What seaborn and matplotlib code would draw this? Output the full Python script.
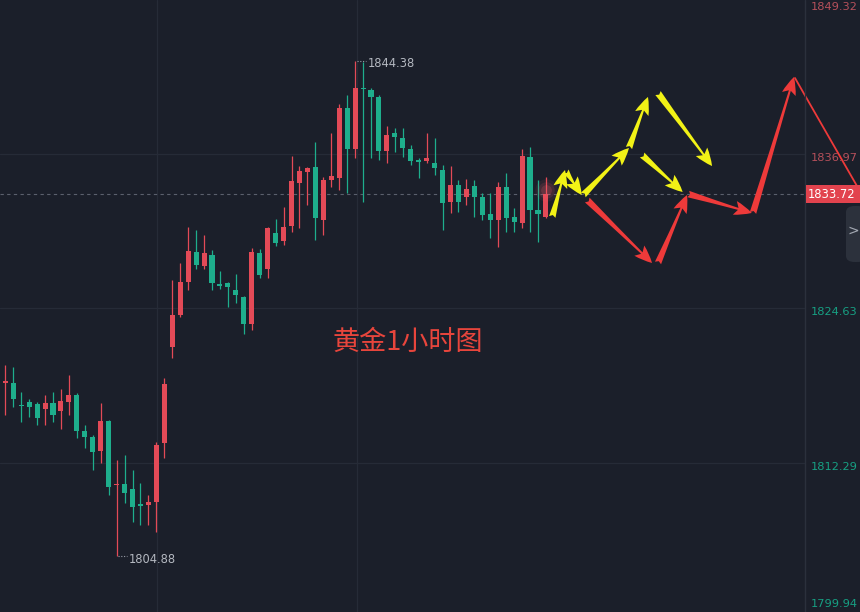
import numpy as np
import pandas as pd
import matplotlib
matplotlib.use("Agg")
import matplotlib.pyplot as plt
import seaborn as sns
from matplotlib.patches import Rectangle, FancyBboxPatch

# ---------------- data ----------------
opens = [1818.71, 1818.67, 1816.88, 1817.15, 1816.99, 1816.60, 1817.07, 1816.44, 1817.15, 1817.71,
         1814.84, 1814.36, 1813.25, 1815.64, 1810.50, 1810.62, 1810.22, 1808.98, 1808.94, 1809.18,
         1813.88, 1821.54, 1824.09, 1826.72, 1829.12, 1828.00, 1828.88, 1826.52, 1826.64, 1826.09,
         1825.53, 1823.37, 1829.04, 1827.76, 1830.63, 1829.99, 1831.19, 1834.62, 1835.49, 1835.89,
         1831.67, 1834.86, 1835.02, 1840.60, 1837.33, 1842.19, 1842.03, 1841.48, 1837.17, 1838.60,
         1838.21, 1837.33, 1836.41, 1836.37, 1836.21, 1835.65, 1833.10, 1834.46, 1833.50, 1834.38,
         1833.50, 1832.15, 1831.67, 1834.30, 1831.91, 1831.43, 1836.69, 1832.46, 1831.91]
highs = [1820.10, 1819.95, 1817.95, 1817.39, 1817.15, 1817.71, 1817.95, 1818.19, 1819.31, 1817.87,
         1815.32, 1814.52, 1817.07, 1815.72, 1812.53, 1812.93, 1811.73, 1810.70, 1809.74, 1813.96,
         1819.07, 1826.88, 1828.24, 1831.11, 1830.87, 1830.47, 1829.27, 1827.60, 1826.70, 1827.36,
         1825.60, 1829.43, 1829.35, 1831.11, 1831.75, 1832.70, 1836.77, 1835.97, 1835.89, 1837.89,
         1835.10, 1838.60, 1840.90, 1841.63, 1844.38, 1844.27, 1842.19, 1841.63, 1839.16, 1839.00,
         1839.00, 1837.65, 1836.61, 1838.60, 1838.21, 1836.05, 1835.97, 1834.86, 1834.94, 1834.86,
         1833.82, 1833.82, 1834.70, 1835.41, 1832.62, 1837.33, 1837.49, 1834.86, 1835.10]
lows = [1816.12, 1816.76, 1815.56, 1815.96, 1815.32, 1815.32, 1815.56, 1815.00, 1816.12, 1814.28,
        1813.49, 1811.73, 1812.29, 1809.74, 1804.88, 1809.10, 1807.59, 1807.35, 1807.35, 1806.79,
        1812.69, 1820.66, 1823.90, 1826.09, 1827.76, 1827.76, 1826.09, 1826.17, 1824.73, 1825.05,
        1822.58, 1822.90, 1827.04, 1827.04, 1829.59, 1829.67, 1830.71, 1831.03, 1832.86, 1830.07,
        1830.47, 1834.30, 1834.06, 1833.82, 1836.61, 1833.10, 1836.61, 1836.45, 1836.21, 1837.09,
        1836.69, 1836.05, 1835.02, 1836.21, 1835.26, 1830.87, 1832.23, 1832.31, 1832.86, 1831.91,
        1831.67, 1830.23, 1829.51, 1830.71, 1830.71, 1831.03, 1830.71, 1829.91, 1831.80]
closes = [1818.79, 1817.39, 1816.80, 1816.76, 1815.88, 1817.07, 1816.12, 1817.23, 1817.71, 1814.84,
          1814.36, 1813.17, 1815.64, 1810.38, 1810.58, 1809.90, 1808.78, 1808.90, 1809.18, 1813.73,
          1818.59, 1824.09, 1826.72, 1829.20, 1828.08, 1829.04, 1826.64, 1826.44, 1826.32, 1825.69,
          1823.37, 1829.12, 1827.28, 1831.03, 1829.83, 1831.11, 1834.78, 1835.57, 1835.81, 1831.83,
          1834.86, 1835.18, 1840.60, 1837.33, 1842.19, 1842.11, 1841.48, 1837.17, 1838.45, 1838.29,
          1837.41, 1836.37, 1836.33, 1836.61, 1835.81, 1833.02, 1834.46, 1833.10, 1834.14, 1833.50,
          1832.07, 1831.67, 1834.30, 1831.83, 1831.51, 1836.77, 1832.46, 1832.15, 1833.72]

tick_values = [1849.32, 1836.97, 1824.63, 1812.29, 1799.94]
last_price = 1833.72
high_value, high_index = 1844.38, 44
low_value, low_index = 1804.88, 14
title_text = "黄金1小时图"

# forecast arrows: (x index, price) start -> end
yellow_arrows = [((68.8, 1831.91), (70.4, 1835.65)),
                 ((70.5, 1835.55), (72.5, 1833.66)),
                 ((72.7, 1833.66), (78.45, 1837.41)),
                 ((78.45, 1837.41), (80.84, 1841.48)),
                 ((82.1, 1841.79), (88.9, 1835.97)),
                 ((80.1, 1836.85), (85.2, 1833.90))]
red_arrows = [((73.2, 1833.26), (81.35, 1828.24)),
              ((82.1, 1828.24), (85.75, 1833.66)),
              ((85.9, 1833.74), (93.9, 1832.23)),
              ((94.05, 1832.23), (99.2, 1843.07))]
red_line = [(99.33, 1842.99), (107.2, 1834.30)]

# ---------------- style ----------------
BG = "#1b1f2a"
UP = "#e34a57"
DOWN = "#1eae8c"
GRID = "#262b37"

sns.set_theme(style="dark", rc={"axes.facecolor": BG, "figure.facecolor": BG,
                                "savefig.facecolor": BG})
plt.rcParams['font.family'] = ['DejaVu Sans', 'Noto Sans CJK SC']

W, H = 860, 612
fig = plt.figure(figsize=(W / 100, H / 100), dpi=100)
ax = fig.add_axes([0, 0, 805 / W, 1])
ax.set_facecolor(BG)
for s in ax.spines.values():
    s.set_visible(False)
ax.set_xticks([])
ax.set_yticks([])

YTOP, YBOT = 1849.21, 1800.41
ax.set_ylim(YBOT, YTOP)
ax.set_xlim(-0.667, 100.59)

def ypx(p):
    return (YTOP - p) / (YTOP - YBOT) * H

# grid
for v in tick_values:
    if YBOT < v < YTOP:
        ax.axhline(v, color=GRID, lw=0.9, zorder=0)
for gx in [19.1, 44.25]:
    ax.axvline(gx, color=GRID, lw=0.9, zorder=0)

# candles
df = pd.DataFrame({"open": opens, "high": highs, "low": lows, "close": closes})
df["idx"] = np.arange(len(df))
df["up"] = df["close"] >= df["open"]
colors = np.where(df["up"], UP, DOWN)
ax.vlines(df["idx"], df["low"], df["high"], colors=colors, lw=0.9, zorder=2)
bottom = df[["open", "close"]].min(axis=1)
height = (df["close"] - df["open"]).abs().clip(lower=0.09)
ax.bar(df["idx"], height, bottom=bottom, width=0.64, color=colors, lw=0, zorder=3)

# glow at last candle
li = len(df) - 1
for r, a in [(260, 0.08), (140, 0.12), (60, 0.18)]:
    ax.scatter([li], [last_price + 0.3], s=r, color="#ff6070", alpha=a, lw=0, zorder=4)

# current price dashed line
ax.axhline(last_price, color="#5b606d", lw=0.8, ls=(0, (3, 3)), zorder=1)

# high / low labels
ax.plot([high_index + 0.2, high_index + 1.4], [high_value, high_value], color="#9a9ea8",
        lw=0.8, ls=(0, (1, 1.5)), zorder=5)
ax.text(high_index + 1.55, high_value - 0.2, f"{high_value:.2f}", color="#b4b8c0", fontsize=8.3,
        va="center", ha="left", zorder=5)
ax.plot([low_index + 0.2, low_index + 1.3], [low_value, low_value], color="#9a9ea8",
        lw=0.8, ls=(0, (1, 1.5)), zorder=5)
ax.text(low_index + 1.5, low_value - 0.25, f"{low_value:.2f}", color="#b4b8c0", fontsize=8.3,
        va="center", ha="left", zorder=5)

# title
ax.text(50.65, 1821.94, title_text, color="#e8453c", fontsize=19.5,
        family=['Noto Sans CJK SC', 'DejaVu Sans'], ha="center", va="center", zorder=5)

# arrows
def draw_arrow(p0, p1, color):
    ax.annotate("", xy=p1, xytext=p0, zorder=6, annotation_clip=False,
                arrowprops=dict(arrowstyle="fancy,head_length=0.75,head_width=0.6,tail_width=0.28",
                                color=color, lw=0, shrinkA=0, shrinkB=0, mutation_scale=17))

for p0, p1 in yellow_arrows:
    draw_arrow(p0, p1, "#f2f216")
for p0, p1 in red_arrows:
    draw_arrow(p0, p1, "#ee3a3a")
ax.plot([red_line[0][0], red_line[1][0]], [red_line[0][1], red_line[1][1]],
        color="#ee3a3a", lw=1.3, clip_on=False, zorder=6)

# right price axis
fig.add_artist(plt.Line2D([805 / W, 805 / W], [0, 1], color="#2b303c", lw=1.0))
for v in tick_values:
    y = ypx(v) + 4
    y = min(max(y, 7), 604)
    col = "#b5505b" if v > last_price else "#17a083"
    fig.text(811 / W, 1 - y / H, f"{v:.2f}", color=col, fontsize=8.2, va="center", ha="left")

yl = ypx(last_price)
fig.add_artist(Rectangle((806 / W, 1 - (yl + 9) / H), 54 / W, 18 / H,
                         transform=fig.transFigure, color="#e2434e", lw=0, zorder=7))
fig.text(832 / W, 1 - yl / H, f"{last_price:.2f}", color="white", fontsize=8.3,
         va="center", ha="center", zorder=8)

fig.add_artist(FancyBboxPatch((846 / W, 1 - 262 / H), 20 / W, 56 / H,
                              boxstyle="round,pad=0,rounding_size=0.01",
                              transform=fig.transFigure, color="#2c313c", lw=0, zorder=7))
fig.text(853.5 / W, 1 - 231 / H, ">", color="#a3a8b2", fontsize=10, va="center", ha="center",
         zorder=8)

fig.savefig("out.png", dpi=100, facecolor=BG)
